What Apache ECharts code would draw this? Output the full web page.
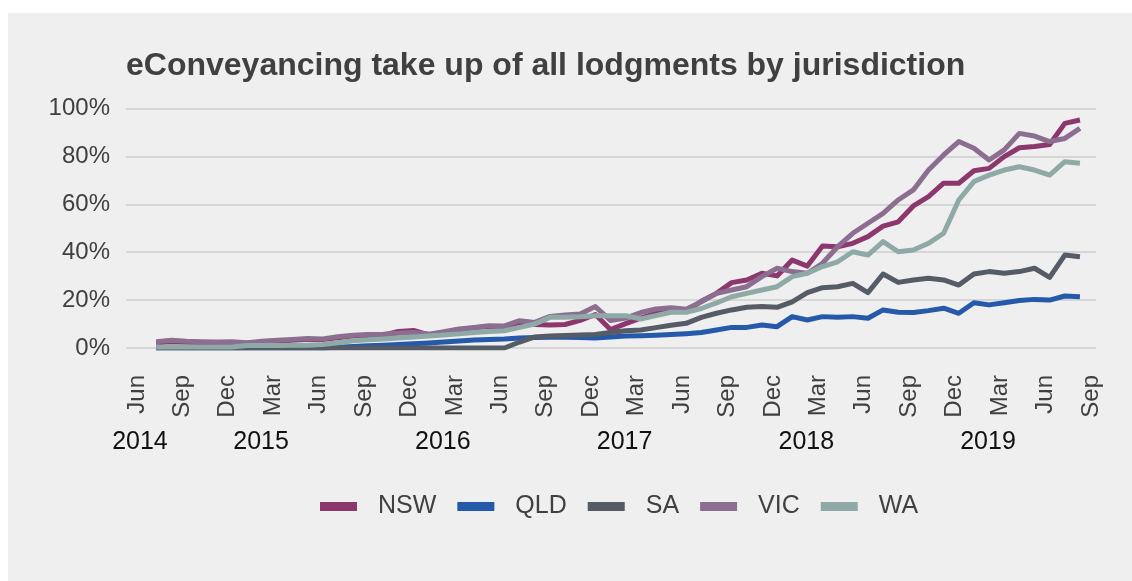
<!DOCTYPE html>
<html>
<head>
<meta charset="utf-8">
<script src="https://cdn.jsdelivr.net/npm/echarts/dist/echarts.min.js"></script>
<style>
html,body{margin:0;padding:0;background:#ffffff;}
#chart{width:1132px;height:581px;}
</style>
</head>
<body>
<div id="chart"></div>
<script>
// Month ticks: Jun 2014 (0) ... Sep 2019 (63), every 3 months
const xTickLabels = ['Jun','Sep','Dec','Mar','Jun','Sep','Dec','Mar','Jun','Sep','Dec','Mar','Jun','Sep','Dec','Mar','Jun','Sep','Dec','Mar','Jun','Sep'];
const yearLabels = ['2014','2015','2016','2017','2018','2019'];
const yearMonths = [0, 8, 20, 32, 44, 56];
const seriesNames = ['NSW','QLD','SA','VIC','WA'];
// Monthly values Jul 2014 ... Aug 2019 (%)
const NSW = [2.2,2.6,2.4,2.3,2.2,2.2,2.0,2.4,2.8,3.2, 3.6,3.5,4.3,5.0,5.2,5.4,6.9,7.3,5.5,6.2, 7.4,8.5,9.0,9.0,10.5,9.8,9.6,9.8,11.5,14.0, 7.7,10.2,12.5,14.5,15.5,15.5,19.5,22.8,27.3,28.4, 31.2,30.1,36.7,34.2,42.6,42.3,43.7,46.5,50.9,52.7, 59.3,63.2,68.8,68.8,74.0,75.0,79.9,83.6,84.1,85.0, 93.8,95.2];
const QLD = [0,0,0,0,0,0,0,0,0,0, 0,0,0.3,0.6,0.9,1.2,1.5,1.8,2.1,2.5, 2.9,3.3,3.6,3.8,4.2,4.4,4.5,4.5,4.4,4.2, 4.6,5.0,5.1,5.3,5.6,6.0,6.5,7.5,8.6,8.6, 9.6,8.9,13.1,11.7,13.1,12.8,13.1,12.4,15.9,14.9, 14.8,15.6,16.6,14.5,18.9,18.0,18.9,19.8,20.3,20.0, 21.7,21.4];
const SA = [0,0,0,0,0,0,0,0,0,0, 0,0,0,0,0,0,0,0,0,0, 0,0,0,0,2.5,4.6,5.0,5.2,5.4,5.6, 6.5,7.2,7.5,8.5,9.5,10.3,12.8,14.5,15.9,17.0, 17.3,17.0,19.3,23.1,25.2,25.6,27.0,23.1,30.9,27.4, 28.4,29.1,28.4,26.3,30.9,31.9,31.2,31.9,33.3,29.5, 38.8,38.1];
const VIC = [2.6,3.2,2.8,2.6,2.5,2.6,2.2,2.8,3.2,3.6, 4.0,3.8,4.7,5.3,5.6,5.7,6.2,6.5,5.8,6.8, 7.9,8.6,9.3,9.2,11.4,10.7,13.2,13.8,14.2,17.3, 11.5,12.5,14.8,16.3,16.8,16.2,19.3,22.8,24.2,25.6, 29.8,33.3,31.9,31.2,35.4,42.3,47.9,52.1,56.2,61.8, 66.0,74.3,80.6,86.2,83.4,78.5,82.7,89.6,88.5,86.2, 87.5,91.7];
const WA = [0.4,0.4,0.4,0.4,0.4,0.4,1.0,1.0,1.0,1.1, 1.1,1.5,2.2,3.0,3.4,3.8,4.2,4.6,5.0,5.4, 5.9,6.5,6.9,7.2,8.6,10.0,12.8,12.8,13.0,13.5, 13.5,13.5,12.1,13.5,14.9,14.9,16.5,18.8,21.4,22.8, 24.2,25.6,29.8,31.2,34.0,36.0,40.2,38.8,44.4,40.2, 40.9,43.7,47.9,61.8,69.5,72.2,74.3,75.7,74.3,72.2, 77.8,77.1];

const allValues = [NSW, QLD, SA, VIC, WA];
const colors = ['#8c376e','#2559aa','#555c66','#8c6e91','#8faaa6'];
const FONT = "'Liberation Sans', Arial, sans-serif";
const firstMonth = 1;      // Jul 2014 relative to Jun 2014
const inMonth = 0.27;      // position of each reading within its month

const chart = echarts.init(document.getElementById('chart'), null, {renderer: 'canvas'});
const option = {
  animation: false,
  backgroundColor: '#ffffff',
  graphic: [{
    type: 'rect', z: -10, silent: true,
    shape: {x: 8, y: 13, width: 1124, height: 568},
    style: {fill: '#efefef'}
  }],
  title: {
    text: 'eConveyancing take up of all lodgments by jurisdiction',
    left: 121, top: 45,
    textStyle: {fontFamily: FONT, fontSize: 32, fontWeight: 'bold', color: '#404040'}
  },
  legend: {
    data: seriesNames,
    left: 315, top: 489,
    icon: 'rect', itemWidth: 37, itemHeight: 9, itemGap: 21,
    textStyle: {fontFamily: FONT, fontSize: 25, color: '#404040', padding: [0, 0, 0, 16]}
  },
  grid: {left: 126, right: 36, top: 108.5, bottom: 233},
  xAxis: [{
    type: 'value', min: -0.72, max: 63.33,
    axisLine: {show: false}, axisTick: {show: false}, splitLine: {show: false},
    axisLabel: {
      customValues: xTickLabels.map((_, i) => i * 3),
      formatter: v => xTickLabels[Math.round(v / 3)],
      rotate: 90, margin: 27, fontFamily: FONT, fontSize: 24, color: '#404040'
    }
  }, {
    type: 'value', min: -0.72, max: 63.33, position: 'bottom',
    axisLine: {show: false}, axisTick: {show: false}, splitLine: {show: false},
    axisLabel: {
      customValues: yearMonths.map(m => m + 0.2),
      formatter: v => yearLabels[yearMonths.indexOf(Math.round(v - 0.2))],
      margin: 82, fontFamily: FONT, fontSize: 25, color: '#111111'
    }
  }],
  yAxis: {
    type: 'value', min: 0, max: 100, interval: 20,
    axisLine: {show: false}, axisTick: {show: false},
    splitLine: {lineStyle: {color: '#d6d6d6', width: 2}},
    axisLabel: {formatter: '{value}%', margin: 16, fontFamily: FONT, fontSize: 24, color: '#404040'}
  },
  series: seriesNames.map((name, s) => ({
    name: name, type: 'line', xAxisIndex: 0,
    showSymbol: false, symbol: 'none',
    data: allValues[s].map((v, i) => [firstMonth + i + inMonth, v]),
    lineStyle: {color: colors[s], width: 5, cap: 'butt', join: 'round'},
    itemStyle: {color: colors[s]}
  }))
};
chart.setOption(option);
</script>
</body>
</html>
